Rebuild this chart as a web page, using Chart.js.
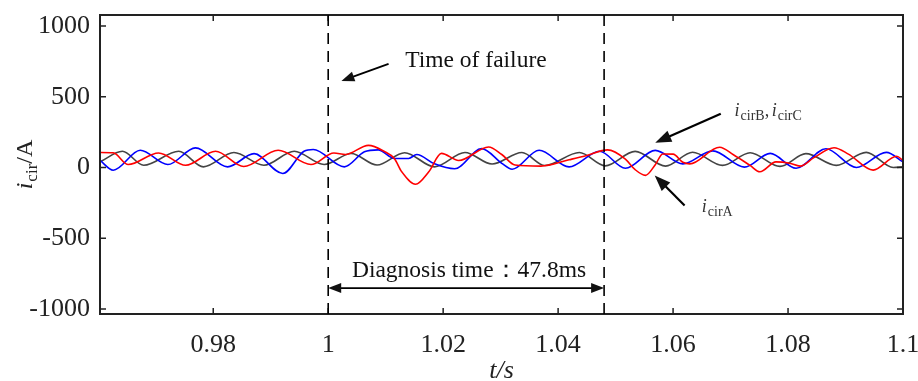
<!DOCTYPE html>
<html>
<head>
<meta charset="utf-8">
<script src="https://cdn.jsdelivr.net/npm/chart.js@4.4.0/dist/chart.umd.min.js"></script>
<style>
  html, body { margin: 0; padding: 0; background: #fff; }
</style>
</head>
<body>
<canvas id="myChart" width="918" height="381"></canvas>
<script>
// time axis (s) and circulating currents (A) at peaks / troughs
const redT = [0.9603, 0.9626, 0.9652, 0.9705, 0.9752, 0.9804, 0.9853, 0.9913, 0.9970, 1.0010, 1.0030, 1.0070,
  1.0098, 1.0115, 1.0128, 1.0152, 1.0175, 1.0197, 1.0227, 1.0279, 1.0302, 1.0325, 1.0370, 1.0419, 1.0450,
  1.0486, 1.0517, 1.0534, 1.0552, 1.0569, 1.0582, 1.0600, 1.0617, 1.0629, 1.0681, 1.0705, 1.0734, 1.0751,
  1.0779, 1.0803, 1.0821, 1.0845, 1.0880, 1.0905, 1.0948, 1.0989, 1.1000];
const redV = [106, 104, 21, 103, 16, 115, 7, 122, 21, 103, 92, 157,
  113, 64, -30, -118, -30, 100, 50, 145, 92, 18, 10, 55, 85,
  125, 60, -15, -55, 20, 96, 95, 37, 26, 143, 90, 15, -30,
  40, 30, 10, 70, 140, 95, -18, 80, 50];

const blueT = [0.9603, 0.9626, 0.9673, 0.9721, 0.9769, 0.9825, 0.9871, 0.9921, 0.9958, 0.9974, 1.0028, 1.0063,
  1.0087, 1.0115, 1.0140, 1.0154, 1.0185, 1.0220, 1.0267, 1.0302, 1.0320, 1.0367, 1.0419, 1.0472, 1.0517,
  1.0569, 1.0617, 1.0669, 1.0724, 1.0769, 1.0814, 1.0866, 1.0919, 1.0971, 1.1000];
const blueV = [51, -19, 122, 21, 139, 5, 98, -42, 115, 127, 5, 111,
  125, 64, 64, 92, 26, -9, 134, 30, -12, 122, 5, 115, -5,
  121, 26, 118, 3, 100, -5, 133, 0, 107, 40];

const grayT = [0.9603, 0.9642, 0.9679, 0.9740, 0.9783, 0.9836, 0.9888, 0.9941, 0.9993, 1.0040, 1.0085, 1.0133,
  1.0185, 1.0238, 1.0285, 1.0337, 1.0377, 1.0437, 1.0482, 1.0534, 1.0587, 1.0634, 1.0686, 1.0734, 1.0786,
  1.0831, 1.0884, 1.0936, 1.0983, 1.1000];
const grayV = [40, 115, 16, 115, 5, 106, 16, 115, 21, 99, 18, 105,
  5, 106, 25, 106, 14, 106, 12, 114, 10, 108, 15, 105, 8,
  98, 15, 107, 0, 5];

const xTicks = [0.98, 1, 1.02, 1.04, 1.06, 1.08, 1.1];
const yTicks = [-1000, -500, 0, 500, 1000];
const tFail = 1.0;
const tDiag = 1.048;

const serif = '"Liberation Serif", "Times New Roman", serif';

function pts(ts, vs) {
  return ts.map((t, i) => ({ x: t, y: vs[i] }));
}

function arrowHead(ctx, x1, y1, x2, y2, len, wid) {
  const ang = Math.atan2(y2 - y1, x2 - x1);
  ctx.beginPath();
  ctx.moveTo(x2, y2);
  ctx.lineTo(x2 - len * Math.cos(ang) + wid * Math.sin(ang), y2 - len * Math.sin(ang) - wid * Math.cos(ang));
  ctx.lineTo(x2 - len * Math.cos(ang) - wid * Math.sin(ang), y2 - len * Math.sin(ang) + wid * Math.cos(ang));
  ctx.closePath();
  ctx.fill();
}

function arrow(ctx, x1, y1, x2, y2, len, wid) {
  const ang = Math.atan2(y2 - y1, x2 - x1);
  ctx.beginPath();
  ctx.moveTo(x1, y1);
  ctx.lineTo(x2 - len * 0.8 * Math.cos(ang), y2 - len * 0.8 * Math.sin(ang));
  ctx.stroke();
  arrowHead(ctx, x1, y1, x2, y2, len, wid);
}

// italic i with a subscript, drawn left to right from (x, y) baseline
function subLabel(ctx, x, y, sub, size) {
  ctx.textAlign = 'left';
  ctx.textBaseline = 'alphabetic';
  ctx.font = 'italic ' + size + 'px ' + serif;
  ctx.fillText('i', x, y);
  x += ctx.measureText('i').width + 1;
  ctx.font = Math.round(size * 0.8) + 'px ' + serif;
  ctx.fillText(sub, x, y + size * 0.2);
  x += ctx.measureText(sub).width;
  return x;
}

// fixed axis sizes, no label overflow padding
function fixBox(w, h) {
  return s => {
    if (w) s.width = w;
    if (h) s.height = h;
    s.paddingTop = 0; s.paddingBottom = 0; s.paddingLeft = 0; s.paddingRight = 0;
  };
}

const decor = {
  id: 'decor',
  afterDatasetsDraw(chart) {
    const { ctx, chartArea: a, scales: { x, y } } = chart;
    const px = v => x.getPixelForValue(v);
    const py = v => y.getPixelForValue(v);
    ctx.save();
    ctx.strokeStyle = '#222';
    ctx.fillStyle = '#111';

    // frame
    ctx.lineWidth = 2;
    ctx.strokeRect(a.left, a.top, a.right - a.left, a.bottom - a.top);

    // inward ticks on all sides
    ctx.lineWidth = 1.5;
    ctx.beginPath();
    xTicks.forEach(v => {
      const p = px(v);
      ctx.moveTo(p, a.bottom); ctx.lineTo(p, a.bottom - 6);
      ctx.moveTo(p, a.top); ctx.lineTo(p, a.top + 6);
    });
    yTicks.forEach(v => {
      const p = py(v);
      ctx.moveTo(a.left, p); ctx.lineTo(a.left + 6, p);
      ctx.moveTo(a.right, p); ctx.lineTo(a.right - 6, p);
    });
    ctx.stroke();

    // dashed marker lines
    ctx.strokeStyle = '#000';
    ctx.lineWidth = 1.6;
    ctx.setLineDash([11, 7]);
    [tFail, tDiag].forEach(t => {
      ctx.beginPath();
      ctx.moveTo(px(t), a.top);
      ctx.lineTo(px(t), a.bottom);
      ctx.stroke();
    });
    ctx.setLineDash([]);

    // time of failure
    ctx.font = '23.5px ' + serif;
    ctx.textAlign = 'left';
    ctx.textBaseline = 'middle';
    ctx.fillText('Time of failure', px(1.0134), py(752));
    ctx.lineWidth = 1.8;
    arrow(ctx, px(1.0105), py(732), px(1.0023), py(612), 13, 5);

    // diagnosis time
    ctx.textAlign = 'center';
    ctx.font = '23.5px ' + serif;
    ctx.fillText('Diagnosis time\uFF1A47.8ms', px(1.0245), py(-728));
    const yd = py(-852);
    ctx.beginPath();
    ctx.moveTo(px(tFail) + 8, yd);
    ctx.lineTo(px(tDiag) - 8, yd);
    ctx.stroke();
    arrowHead(ctx, px(tDiag), yd, px(tFail), yd, 13, 5);
    arrowHead(ctx, px(tFail), yd, px(tDiag), yd, 13, 5);

    // series labels
    ctx.fillStyle = '#333';
    let xx = subLabel(ctx, px(1.0707), py(362), 'cirB', 18);
    ctx.font = '18px ' + serif;
    ctx.fillText(', ', xx, py(362));
    xx += ctx.measureText(', ').width - 2;
    subLabel(ctx, xx, py(362), 'cirC', 18);
    subLabel(ctx, px(1.0650), py(-316), 'cirA', 18);

    ctx.fillStyle = '#111';
    ctx.lineWidth = 2.2;
    arrow(ctx, px(1.0683), py(380), px(1.0569), py(176), 16, 6);
    arrow(ctx, px(1.0620), py(-268), px(1.0568), py(-56), 16, 6);

    // axis titles
    ctx.fillStyle = '#222';
    ctx.font = 'italic 26px ' + serif;
    ctx.textAlign = 'center';
    ctx.textBaseline = 'alphabetic';
    ctx.fillText('t/s', (a.left + a.right) / 2, 378);

    ctx.translate(32, (a.top + a.bottom) / 2);
    ctx.rotate(-Math.PI / 2);
    ctx.font = 'italic 24px ' + serif;
    const w1 = ctx.measureText('i').width;
    ctx.font = '17px ' + serif;
    const w2 = ctx.measureText('cir').width;
    ctx.font = '24px ' + serif;
    const w3 = ctx.measureText('/A').width;
    let sx = -(w1 + w2 + w3 + 1) / 2;
    ctx.textAlign = 'left';
    ctx.font = 'italic 24px ' + serif;
    ctx.fillText('i', sx, 0);
    sx += w1 + 1;
    ctx.font = '17px ' + serif;
    ctx.fillText('cir', sx, 5);
    sx += w2;
    ctx.font = '24px ' + serif;
    ctx.fillText('/A', sx, 0);
    ctx.restore();
  }
};

const ctx = document.getElementById('myChart');
new Chart(ctx, {
  type: 'line',
  data: {
    datasets: [
      { label: 'icirA', data: pts(redT, redV), borderColor: '#ff0000' },
      { label: 'icirB', data: pts(blueT, blueV), borderColor: '#0000ff' },
      { label: 'icirC', data: pts(grayT, grayV), borderColor: '#444444' }
    ]
  },
  options: {
    responsive: false,
    animation: false,
    devicePixelRatio: 1,
    layout: { autoPadding: false, padding: { top: 15, right: 15, left: 0, bottom: 0 } },
    elements: {
      point: { radius: 0 },
      line: { borderWidth: 1.6, cubicInterpolationMode: 'monotone', fill: false }
    },
    plugins: { legend: { display: false }, tooltip: { enabled: false } },
    scales: {
      x: {
        type: 'linear',
        min: 0.9603,
        max: 1.1,
        afterBuildTicks: s => { s.ticks = xTicks.map(v => ({ value: v })); },
        afterFit: fixBox(0, 67),
        grid: { display: false, drawTicks: false },
        border: { display: false },
        ticks: {
          font: { family: serif, size: 26 },
          color: '#222',
          padding: 16,
          maxRotation: 0,
          autoSkip: false,
          callback: v => String(v)
        }
      },
      y: {
        type: 'linear',
        min: -1035,
        max: 1078,
        afterBuildTicks: s => { s.ticks = yTicks.map(v => ({ value: v })); },
        afterFit: fixBox(100, 0),
        grid: { display: false, drawTicks: false },
        border: { display: false },
        ticks: {
          font: { family: serif, size: 26 },
          color: '#222',
          padding: 10,
          callback: v => String(v)
        }
      }
    }
  },
  plugins: [decor]
});
</script>
</body>
</html>
